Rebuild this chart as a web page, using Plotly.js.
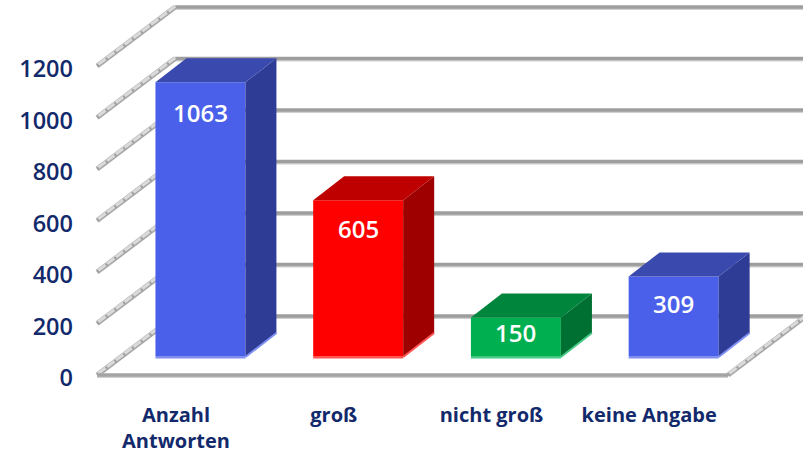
<!DOCTYPE html>
<html>
<head>
<meta charset="utf-8">
<script src="https://cdn.plot.ly/plotly-3.0.1.min.js"></script>
<style>html,body{margin:0;padding:0;background:#fff;overflow:hidden}#chart{width:803px;height:456px}</style>
</head>
<body>
<div id="chart"></div>
<script>
const categories = ['Anzahl<br>Antworten', 'groß', 'nicht groß', 'keine Angabe'];
const values = [1063, 605, 150, 309];
const positions = [0, 1, 2, 3];
const tickValues = [0, 200, 400, 600, 800, 1000, 1200];
const frontColors = ['#4A60EA', '#FF0000', '#00B050', '#4A60EA'];
const sideColors = ['#2F3C96', '#9E0000', '#006F32', '#2F3C96'];
const topColors = ['#3A49AE', '#BF0000', '#00853C', '#3A49AE'];
const stripColors = ['#7F90F2', '#FF5555', '#45C985', '#7F90F2'];
const labelDrops = [30, 28, 15, 27];

const navy = '#12296B';
// projection of the chart's depth, in axis units
const lift = 11.65;
const wallDx = 0.4945, wallDy = 229;
const planeDx = 0.155, planeDy = 73.8 + lift;
const barDx = 0.1965, barDy = 93.2;
const barWidth = 0.5705;
const xMin = -0.5, xMax = 3.5;

const shapes = [];
function line(x0, y0, x1, y1, color, width, dash) {
  shapes.push({type: 'line', layer: 'below', xref: 'x', yref: 'y', x0, y0, x1, y1,
    line: {color, width, dash: dash || 'solid'}});
}
function diagonal(x, v) {
  line(x, v, x + wallDx, v + wallDy, '#A8A8A8', 5);
  line(x, v + 3, x + wallDx, v + wallDy + 3, '#DADADA', 3);
  line(x, v, x + wallDx, v + wallDy, '#A0A0A0', 3, '2px,9px');
}
tickValues.forEach(t => {
  const v = t + lift;
  line(xMin + wallDx, v + wallDy - 8, xMax + wallDx, v + wallDy - 8, '#D0D0D0', 2);
  line(xMin + wallDx, v + wallDy, xMax + wallDx, v + wallDy, '#9E9E9E', 3.5);
  diagonal(xMin, v);
});
line(xMin, lift - 8, xMax, lift - 8, '#D0D0D0', 2);
line(xMin, lift, xMax, lift, '#A4A4A4', 3.5);
diagonal(xMax, lift);

const traces = [];
const barX = positions.map(p => p + planeDx);
traces.push({type: 'bar', x: barX, y: values, base: planeDy, width: barWidth,
  marker: {color: frontColors, line: {width: 0}}, hoverinfo: 'skip', showlegend: false});
traces.push({type: 'bar', x: barX, y: values.map(() => 10), base: planeDy - 10, width: barWidth,
  marker: {color: stripColors, line: {width: 0}}, hoverinfo: 'skip', showlegend: false});

positions.forEach((p, i) => {
  const l = p + planeDx - barWidth / 2, r = p + planeDx + barWidth / 2;
  const b = planeDy - 4, t = planeDy + values[i];
  traces.push({type: 'scatter', mode: 'lines', x: [r, r + barDx, r + barDx, r, r],
    y: [b, b + barDy, t + barDy, t, b], fill: 'toself', fillcolor: sideColors[i],
    line: {width: 0}, hoverinfo: 'skip', showlegend: false});
  traces.push({type: 'scatter', mode: 'lines', x: [l, r, r + barDx, l + barDx, l],
    y: [t, t, t + barDy, t + barDy, t], fill: 'toself', fillcolor: topColors[i],
    line: {width: 0}, hoverinfo: 'skip', showlegend: false});
  traces.push({type: 'scatter', mode: 'lines', x: [r, r + barDx], y: [b, b + barDy],
    line: {color: stripColors[i], width: 2}, hoverinfo: 'skip', showlegend: false});
});

const annotations = positions.map((p, i) => ({
  xref: 'x', yref: 'y', x: p + planeDx, y: planeDy + values[i],
  yshift: -labelDrops[i], yanchor: 'middle', xanchor: 'center',
  text: String(values[i]), showarrow: false,
  font: {family: 'Open Sans', size: 24, color: '#FFFFFF', weight: 600}
}));

const layout = {
  width: 803, height: 456,
  margin: {l: 74, r: 0, t: 0, b: 73, pad: 0},
  paper_bgcolor: '#FFFFFF', plot_bgcolor: '#FFFFFF',
  showlegend: false, barmode: 'overlay',
  xaxis: {range: [-0.6466, 3.975], tickmode: 'array', tickvals: positions, ticktext: categories,
    showgrid: false, zeroline: false, showline: false,
    ticks: 'outside', ticklen: 14, tickcolor: 'rgba(0,0,0,0)', tickangle: 0,
    tickfont: {family: 'Open Sans', size: 20, color: navy, weight: 700}},
  yaxis: {range: [-19.4, 1468], tickmode: 'array', tickvals: tickValues,
    showgrid: false, zeroline: false, showline: false, ticks: '',
    tickfont: {family: 'Open Sans', size: 23.5, color: navy, weight: 600}},
  shapes, annotations
};
Plotly.newPlot('chart', traces, layout, {displayModeBar: false, staticPlot: true});
</script>
</body>
</html>
